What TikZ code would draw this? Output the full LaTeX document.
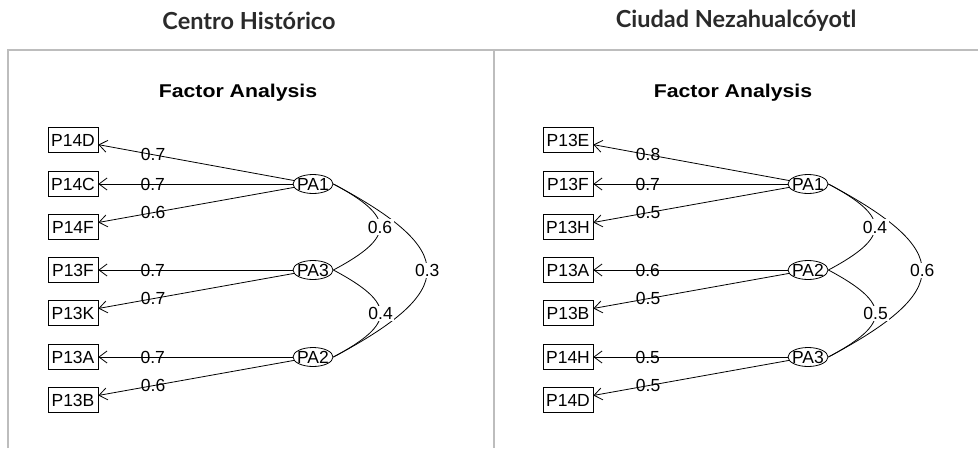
\documentclass[tikz,border=0pt]{standalone}
\usepackage{fontspec}
\setmainfont{Liberation Sans}
\newfontfamily\headfont{Lato}
\usetikzlibrary{shapes.geometric,arrows.meta}
\definecolor{framegray}{HTML}{BDBDBD}
\definecolor{headgray}{HTML}{2A2A2A}
\begin{document}
\begin{tikzpicture}[x=1pt,y=-1pt,
  obs/.style={draw,line width=0.8pt,rectangle,minimum width=50pt,minimum height=25pt,inner sep=0pt,font=\fontsize{17.5}{18}\selectfont},
  lat/.style={draw,line width=0.8pt,ellipse,inner sep=-3pt,minimum width=40pt,minimum height=19pt,font=\fontsize{17.5}{18}\selectfont},
  load/.style={line width=0.8pt,-{Straight Barb[length=8pt,width=12pt,line width=0.8pt]}},
  ldlab/.style={pos=0.72,inner sep=0pt,font=\fontsize{17.5}{18}\selectfont},
  corr/.style={line width=0.8pt,looseness=2.1},
  crlab/.style={fill=white,inner sep=1.5pt,font=\fontsize{17.5}{18}\selectfont},
  title/.style={font=\bfseries\fontsize{18.5}{20}\selectfont},
  header/.style={font=\headfont\bfseries\fontsize{23.5}{25}\selectfont,text=headgray},
  frame/.style={draw=framegray,line width=1.5pt}]
\useasboundingbox (0,0) rectangle (978,448);
% frame
\coordinate (ftl) at (8,50);
\coordinate (ftr) at (978,50);
\coordinate (fbl) at (8,448);
\coordinate (fmt) at (494,50);
\coordinate (fmb) at (494,448);
\draw[frame] (fbl) -- (ftl) -- (ftr);
\draw[frame] (fmt) -- (fmb);
% headers
\node[header] (h1) at (249,21) {Centro Histórico};
\node[header] (h2) at (736,21) {Ciudad Nezahualcóyotl};
\node[title] (t1) at (238,93) {\scalebox{1.15}[1]{Factor Analysis}};
\node[title] (t2) at (733,93) {\scalebox{1.15}[1]{Factor Analysis}};
% ---------- left panel ----------
\node[obs] (a1) at (73,140) {P14D};
\node[obs] (a2) at (73,184) {P14C};
\node[obs] (a3) at (73,227) {P14F};
\node[obs] (a4) at (73,270) {P13F};
\node[obs] (a5) at (73,313) {P13K};
\node[obs] (a6) at (73,357) {P13A};
\node[obs] (a7) at (73,400) {P13B};
\node[lat] (aPA1) at (313,184) {PA1};
\node[lat] (aPA3) at (313,270) {PA3};
\node[lat] (aPA2) at (313,357) {PA2};
\draw[load] (aPA1) -- node[ldlab] {0.7} (a1);
\draw[load] (aPA1) -- node[ldlab] {0.7} (a2);
\draw[load] (aPA1) -- node[ldlab] {0.6} (a3);
\draw[load] (aPA3) -- node[ldlab] {0.7} (a4);
\draw[load] (aPA3) -- node[ldlab] {0.7} (a5);
\draw[load] (aPA2) -- node[ldlab] {0.7} (a6);
\draw[load] (aPA2) -- node[ldlab] {0.6} (a7);
\draw[corr] (aPA1.east) to[out=-28,in=28] node[crlab] {0.3} (aPA2.east);
\draw[corr] (aPA1.east) to[out=-28,in=28] node[crlab] {0.6} (aPA3.east);
\draw[corr] (aPA3.east) to[out=-28,in=28] node[crlab] {0.4} (aPA2.east);
% ---------- right panel ----------
\node[obs] (b1) at (568,140) {P13E};
\node[obs] (b2) at (568,184) {P13F};
\node[obs] (b3) at (568,227) {P13H};
\node[obs] (b4) at (568,270) {P13A};
\node[obs] (b5) at (568,313) {P13B};
\node[obs] (b6) at (568,357) {P14H};
\node[obs] (b7) at (568,400) {P14D};
\node[lat] (bPA1) at (808,184) {PA1};
\node[lat] (bPA2) at (808,270) {PA2};
\node[lat] (bPA3) at (808,357) {PA3};
\draw[load] (bPA1) -- node[ldlab] {0.8} (b1);
\draw[load] (bPA1) -- node[ldlab] {0.7} (b2);
\draw[load] (bPA1) -- node[ldlab] {0.5} (b3);
\draw[load] (bPA2) -- node[ldlab] {0.6} (b4);
\draw[load] (bPA2) -- node[ldlab] {0.5} (b5);
\draw[load] (bPA3) -- node[ldlab] {0.5} (b6);
\draw[load] (bPA3) -- node[ldlab] {0.5} (b7);
\draw[corr] (bPA1.east) to[out=-28,in=28] node[crlab] {0.6} (bPA3.east);
\draw[corr] (bPA1.east) to[out=-28,in=28] node[crlab] {0.4} (bPA2.east);
\draw[corr] (bPA2.east) to[out=-28,in=28] node[crlab] {0.5} (bPA3.east);
\end{tikzpicture}
\end{document}
